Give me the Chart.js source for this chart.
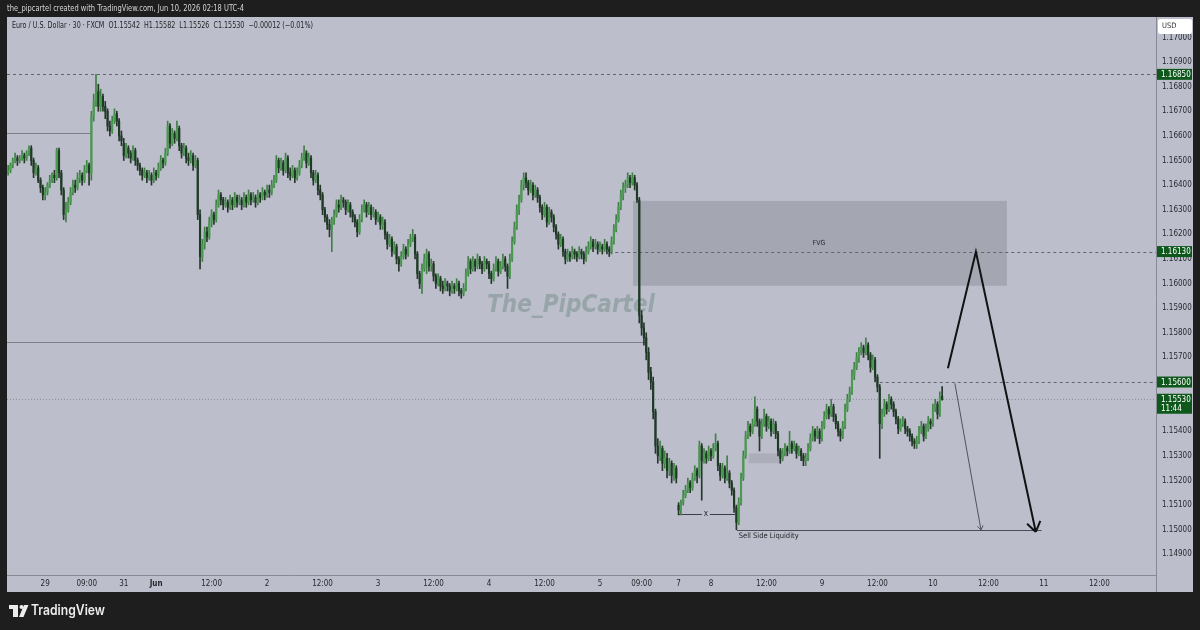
<!DOCTYPE html>
<html>
<head>
<meta charset="utf-8">
<script src="https://cdn.jsdelivr.net/npm/chart.js@4.4.1/dist/chart.umd.min.js"></script>
<style>
  html, body { margin: 0; padding: 0; background: #1e1e1e; }
  #wrap { width: 1200px; height: 630px; }
</style>
</head>
<body>
<div id="wrap"><canvas id="chart" width="1200" height="630"></canvas></div>
<script>
// EUR/USD 30 min candles, May 28 16:00 -> Jun 10 02:00 (weekends skipped)
const opens = [
  1.1645, 1.1646, 1.1648, 1.1650, 1.1651, 1.1650, 1.1651, 1.1652, 1.1651, 1.1653,
  1.1655, 1.1650, 1.1645, 1.1647, 1.1642, 1.1639, 1.1636, 1.1637, 1.1640, 1.1642,
  1.1644, 1.1643, 1.1654, 1.1645, 1.1638, 1.1628, 1.1630, 1.1633, 1.1637, 1.1640,
  1.1639, 1.1643, 1.1644, 1.1642, 1.1646, 1.1648, 1.1645, 1.1668, 1.1674, 1.1678,
  1.1672, 1.1676, 1.1672, 1.1670, 1.1664, 1.1662, 1.1666, 1.1669, 1.1666, 1.1660,
  1.1657, 1.1652, 1.1655, 1.1653, 1.1651, 1.1654, 1.1650, 1.1648, 1.1646, 1.1644,
  1.1645, 1.1643, 1.1644, 1.1642, 1.1645, 1.1644, 1.1647, 1.1650, 1.1649, 1.1653,
  1.1664, 1.1657, 1.1661, 1.1659, 1.1663, 1.1656, 1.1653, 1.1655, 1.1651, 1.1650,
  1.1652, 1.1648, 1.1650, 1.1628, 1.1611, 1.1616, 1.1621, 1.1619, 1.1625, 1.1628,
  1.1626, 1.1632, 1.1636, 1.1634, 1.1632, 1.1633, 1.1631, 1.1634, 1.1632, 1.1635,
  1.1633, 1.1634, 1.1632, 1.1635, 1.1633, 1.1636, 1.1634, 1.1635, 1.1633, 1.1636,
  1.1635, 1.1637, 1.1636, 1.1638, 1.1637, 1.1640, 1.1642, 1.1650, 1.1647, 1.1649,
  1.1646, 1.1651, 1.1645, 1.1644, 1.1646, 1.1643, 1.1645, 1.1648, 1.1651, 1.1653,
  1.1649, 1.1651, 1.1645, 1.1642, 1.1644, 1.1638, 1.1636, 1.1630, 1.1627, 1.1624,
  1.1622, 1.1626, 1.1628, 1.1632, 1.1631, 1.1634, 1.1633, 1.1630, 1.1632, 1.1629,
  1.1627, 1.1625, 1.1621, 1.1626, 1.1630, 1.1632, 1.1629, 1.1631, 1.1628, 1.1629,
  1.1626, 1.1627, 1.1624, 1.1625, 1.1620, 1.1616, 1.1618, 1.1613, 1.1615, 1.1610,
  1.1608, 1.1611, 1.1614, 1.1612, 1.1616, 1.1618, 1.1619, 1.1612, 1.1604, 1.1600,
  1.1606, 1.1610, 1.1612, 1.1607, 1.1608, 1.1603, 1.1600, 1.1602, 1.1599, 1.1598,
  1.1600, 1.1599, 1.1597, 1.1599, 1.1598, 1.1600, 1.1597, 1.1596, 1.1598, 1.1604,
  1.1609, 1.1606, 1.1609, 1.1607, 1.1610, 1.1608, 1.1606, 1.1609, 1.1608, 1.1604,
  1.1602, 1.1606, 1.1609, 1.1605, 1.1607, 1.1610, 1.1607, 1.1603, 1.1610, 1.1617,
  1.1623, 1.1630, 1.1634, 1.1640, 1.1643, 1.1641, 1.1638, 1.1640, 1.1636, 1.1638,
  1.1635, 1.1631, 1.1628, 1.1631, 1.1625, 1.1629, 1.1627, 1.1623, 1.1620, 1.1616,
  1.1618, 1.1613, 1.1610, 1.1612, 1.1611, 1.1613, 1.1612, 1.1611, 1.1613, 1.1612,
  1.1610, 1.1613, 1.1615, 1.1617, 1.1615, 1.1616, 1.1614, 1.1615, 1.1614, 1.1616,
  1.1614, 1.1613, 1.1617, 1.1622, 1.1626, 1.1631, 1.1636, 1.1639, 1.1640, 1.1643,
  1.1641, 1.1643, 1.1640, 1.1634, 1.1587, 1.1582, 1.1578, 1.1572, 1.1564, 1.1560,
  1.1548, 1.1534, 1.1530, 1.1533, 1.1527, 1.1529, 1.1524, 1.1527, 1.1522, 1.1525,
  1.1510, 1.1508, 1.1511, 1.1514, 1.1516, 1.1519, 1.1517, 1.1521, 1.1524, 1.1522,
  1.1534, 1.1528, 1.1531, 1.1529, 1.1532, 1.1530, 1.1533, 1.1535, 1.1526, 1.1522,
  1.1525, 1.1521, 1.1523, 1.1519, 1.1516, 1.1509, 1.1503, 1.1511, 1.1521, 1.1530,
  1.1538, 1.1542, 1.1540, 1.1543, 1.1549, 1.1544, 1.1538, 1.1543, 1.1546, 1.1542,
  1.1544, 1.1540, 1.1543, 1.1539, 1.1532, 1.1529, 1.1531, 1.1533, 1.1532, 1.1535,
  1.1533, 1.1534, 1.1531, 1.1532, 1.1530, 1.1528, 1.1529, 1.1533, 1.1537, 1.1540,
  1.1538, 1.1540, 1.1537, 1.1542, 1.1546, 1.1549, 1.1547, 1.1550, 1.1546, 1.1543,
  1.1540, 1.1538, 1.1542, 1.1549, 1.1553, 1.1556, 1.1563, 1.1566, 1.1570, 1.1572,
  1.1574, 1.1572, 1.1575, 1.1571, 1.1566, 1.1569, 1.1562, 1.1558, 1.1543, 1.1547,
  1.1551, 1.1549, 1.1553, 1.1551, 1.1548, 1.1545, 1.1541, 1.1543, 1.1544, 1.1541,
  1.1540, 1.1538, 1.1536, 1.1535, 1.1536, 1.1540, 1.1542, 1.1538, 1.1541, 1.1544,
  1.1543, 1.1549, 1.1551, 1.1547, 1.15542,
];

const highs = [
  1.1648, 1.1649, 1.1651, 1.1653, 1.1652, 1.1652, 1.1654, 1.1653, 1.1654, 1.1656,
  1.1656, 1.1651, 1.1649, 1.1648, 1.1643, 1.1640, 1.1639, 1.1641, 1.1644, 1.1645,
  1.1646, 1.1655, 1.1655, 1.1646, 1.1639, 1.1633, 1.1635, 1.1639, 1.1642, 1.1642,
  1.1645, 1.1646, 1.1645, 1.1648, 1.1650, 1.1649, 1.1670, 1.1677, 1.1685, 1.1681,
  1.1679, 1.1677, 1.1674, 1.1671, 1.1666, 1.1668, 1.1671, 1.1670, 1.1667, 1.1662,
  1.1659, 1.1657, 1.1656, 1.1654, 1.1656, 1.1655, 1.1651, 1.1649, 1.1647, 1.1647,
  1.1646, 1.1646, 1.1645, 1.1647, 1.1646, 1.1649, 1.1652, 1.1651, 1.1655, 1.1666,
  1.1665, 1.1663, 1.1662, 1.1666, 1.1664, 1.1657, 1.1657, 1.1656, 1.1653, 1.1654,
  1.1653, 1.1652, 1.1651, 1.1630, 1.1618, 1.1623, 1.1623, 1.1627, 1.1630, 1.1629,
  1.1634, 1.1638, 1.1637, 1.1635, 1.1635, 1.1634, 1.1636, 1.1635, 1.1637, 1.1636,
  1.1636, 1.1635, 1.1637, 1.1636, 1.1638, 1.1637, 1.1637, 1.1636, 1.1638, 1.1637,
  1.1639, 1.1638, 1.1640, 1.1640, 1.1642, 1.1644, 1.1652, 1.1651, 1.1651, 1.1650,
  1.1653, 1.1652, 1.1647, 1.1648, 1.1647, 1.1647, 1.1650, 1.1653, 1.1656, 1.1654,
  1.1653, 1.1652, 1.1646, 1.1646, 1.1645, 1.1640, 1.1637, 1.1631, 1.1628, 1.1626,
  1.1627, 1.1630, 1.1634, 1.1634, 1.1636, 1.1635, 1.1634, 1.1634, 1.1633, 1.1630,
  1.1628, 1.1626, 1.1628, 1.1632, 1.1634, 1.1633, 1.1633, 1.1632, 1.1631, 1.1630,
  1.1629, 1.1628, 1.1627, 1.1626, 1.1621, 1.1620, 1.1619, 1.1617, 1.1616, 1.1611,
  1.1613, 1.1616, 1.1615, 1.1618, 1.1620, 1.1622, 1.1620, 1.1613, 1.1605, 1.1608,
  1.1612, 1.1614, 1.1613, 1.1610, 1.1609, 1.1604, 1.1604, 1.1603, 1.1601, 1.1602,
  1.1601, 1.1600, 1.1601, 1.1600, 1.1602, 1.1601, 1.1598, 1.1600, 1.1606, 1.1611,
  1.1610, 1.1611, 1.1610, 1.1612, 1.1611, 1.1609, 1.1611, 1.1610, 1.1609, 1.1605,
  1.1608, 1.1611, 1.1610, 1.1609, 1.1612, 1.1611, 1.1608, 1.1612, 1.1619, 1.1625,
  1.1632, 1.1636, 1.1642, 1.1645, 1.1645, 1.1642, 1.1642, 1.1641, 1.1640, 1.1639,
  1.1636, 1.1632, 1.1633, 1.1632, 1.1631, 1.1630, 1.1628, 1.1624, 1.1621, 1.1620,
  1.1619, 1.1614, 1.1614, 1.1613, 1.1615, 1.1614, 1.1613, 1.1615, 1.1614, 1.1613,
  1.1615, 1.1617, 1.1619, 1.1618, 1.1618, 1.1617, 1.1617, 1.1616, 1.1618, 1.1617,
  1.1615, 1.1619, 1.1624, 1.1628, 1.1633, 1.1638, 1.1641, 1.1642, 1.1645, 1.1644,
  1.1645, 1.1644, 1.1641, 1.1635, 1.1589, 1.1584, 1.1580, 1.1574, 1.1566, 1.1562,
  1.1549, 1.1537, 1.1536, 1.1534, 1.1532, 1.1531, 1.1529, 1.1528, 1.1527, 1.1526,
  1.1511, 1.1512, 1.1516, 1.1518, 1.1521, 1.1520, 1.1523, 1.1526, 1.1525, 1.1536,
  1.1535, 1.1533, 1.1532, 1.1534, 1.1533, 1.1535, 1.1539, 1.1536, 1.1527, 1.1527,
  1.1526, 1.1530, 1.1524, 1.1520, 1.1517, 1.1510, 1.1513, 1.1523, 1.1532, 1.1540,
  1.1544, 1.1543, 1.1545, 1.1554, 1.1550, 1.1545, 1.1545, 1.1549, 1.1547, 1.1546,
  1.1545, 1.1545, 1.1544, 1.1540, 1.1533, 1.1533, 1.1535, 1.1534, 1.1540, 1.1536,
  1.1536, 1.1535, 1.1534, 1.1533, 1.1531, 1.1531, 1.1535, 1.1539, 1.1542, 1.1541,
  1.1542, 1.1541, 1.1544, 1.1548, 1.1551, 1.1550, 1.1553, 1.1551, 1.1547, 1.1544,
  1.1541, 1.1544, 1.1551, 1.1555, 1.1558, 1.1565, 1.1568, 1.1572, 1.1574, 1.1576,
  1.1575, 1.1578, 1.1576, 1.1572, 1.1571, 1.1570, 1.1563, 1.1559, 1.1549, 1.1553,
  1.1552, 1.1555, 1.1554, 1.1552, 1.1549, 1.1546, 1.1545, 1.1546, 1.1545, 1.1542,
  1.1541, 1.1539, 1.1537, 1.1538, 1.1542, 1.1544, 1.1543, 1.1543, 1.1546, 1.1545,
  1.1551, 1.1553, 1.1552, 1.1556, 1.15582,
];

const lows = [
  1.1644, 1.1645, 1.1647, 1.1649, 1.1648, 1.1649, 1.1650, 1.1649, 1.1650, 1.1652,
  1.1648, 1.1643, 1.1644, 1.1641, 1.1637, 1.1634, 1.1634, 1.1636, 1.1639, 1.1641,
  1.1641, 1.1642, 1.1643, 1.1636, 1.1626, 1.1625, 1.1629, 1.1632, 1.1636, 1.1637,
  1.1638, 1.1641, 1.1640, 1.1641, 1.1645, 1.1640, 1.1642, 1.1666, 1.1672, 1.1670,
  1.1670, 1.1670, 1.1667, 1.1662, 1.1660, 1.1661, 1.1665, 1.1664, 1.1658, 1.1656,
  1.1650, 1.1651, 1.1651, 1.1649, 1.1650, 1.1648, 1.1646, 1.1644, 1.1642, 1.1643,
  1.1641, 1.1642, 1.1640, 1.1641, 1.1642, 1.1643, 1.1646, 1.1647, 1.1648, 1.1652,
  1.1655, 1.1656, 1.1657, 1.1658, 1.1654, 1.1651, 1.1652, 1.1649, 1.1648, 1.1649,
  1.1646, 1.1647, 1.1626, 1.1606, 1.1609, 1.1614, 1.1617, 1.1618, 1.1623, 1.1624,
  1.1625, 1.1631, 1.1632, 1.1630, 1.1631, 1.1629, 1.1630, 1.1630, 1.1631, 1.1631,
  1.1632, 1.1630, 1.1631, 1.1631, 1.1632, 1.1632, 1.1633, 1.1631, 1.1632, 1.1633,
  1.1634, 1.1634, 1.1635, 1.1635, 1.1636, 1.1639, 1.1641, 1.1645, 1.1646, 1.1644,
  1.1645, 1.1643, 1.1642, 1.1643, 1.1641, 1.1642, 1.1644, 1.1647, 1.1650, 1.1647,
  1.1648, 1.1643, 1.1640, 1.1641, 1.1636, 1.1634, 1.1628, 1.1625, 1.1622, 1.1619,
  1.1613, 1.1624, 1.1627, 1.1629, 1.1630, 1.1631, 1.1628, 1.1629, 1.1627, 1.1625,
  1.1623, 1.1619, 1.1620, 1.1625, 1.1629, 1.1627, 1.1628, 1.1626, 1.1627, 1.1624,
  1.1625, 1.1622, 1.1622, 1.1618, 1.1614, 1.1615, 1.1611, 1.1612, 1.1608, 1.1605,
  1.1607, 1.1610, 1.1610, 1.1611, 1.1615, 1.1617, 1.1610, 1.1602, 1.1598, 1.1596,
  1.1605, 1.1604, 1.1605, 1.1605, 1.1601, 1.1598, 1.1599, 1.1597, 1.1596, 1.1597,
  1.1597, 1.1595, 1.1596, 1.1596, 1.1597, 1.1595, 1.1594, 1.1595, 1.1597, 1.1603,
  1.1604, 1.1605, 1.1605, 1.1606, 1.1606, 1.1604, 1.1605, 1.1606, 1.1602, 1.1600,
  1.1601, 1.1605, 1.1603, 1.1604, 1.1606, 1.1605, 1.1598, 1.1602, 1.1609, 1.1616,
  1.1622, 1.1628, 1.1633, 1.1638, 1.1639, 1.1636, 1.1637, 1.1634, 1.1635, 1.1633,
  1.1629, 1.1626, 1.1627, 1.1623, 1.1624, 1.1625, 1.1621, 1.1618, 1.1614, 1.1615,
  1.1611, 1.1608, 1.1609, 1.1609, 1.1610, 1.1610, 1.1609, 1.1610, 1.1610, 1.1608,
  1.1609, 1.1612, 1.1614, 1.1613, 1.1614, 1.1612, 1.1613, 1.1612, 1.1613, 1.1612,
  1.1611, 1.1612, 1.1616, 1.1621, 1.1625, 1.1630, 1.1634, 1.1637, 1.1639, 1.1639,
  1.1640, 1.1638, 1.1633, 1.1584, 1.1579, 1.1575, 1.1569, 1.1561, 1.1557, 1.1545,
  1.1531, 1.1527, 1.1528, 1.1524, 1.1525, 1.1521, 1.1522, 1.1519, 1.1520, 1.1519,
  1.1506, 1.1506, 1.1510, 1.1513, 1.1515, 1.1515, 1.1516, 1.1520, 1.1519, 1.1521,
  1.1512, 1.1527, 1.1527, 1.1528, 1.1528, 1.1529, 1.1532, 1.1524, 1.1520, 1.1521,
  1.1519, 1.1520, 1.1517, 1.1514, 1.1507, 1.1500, 1.1502, 1.1510, 1.1520, 1.1529,
  1.1537, 1.1538, 1.1539, 1.1542, 1.1542, 1.1532, 1.1537, 1.1542, 1.1540, 1.1541,
  1.1538, 1.1539, 1.1537, 1.1530, 1.1527, 1.1528, 1.1530, 1.1530, 1.1531, 1.1531,
  1.1532, 1.1529, 1.1530, 1.1528, 1.1526, 1.1526, 1.1528, 1.1532, 1.1536, 1.1536,
  1.1537, 1.1535, 1.1536, 1.1541, 1.1545, 1.1545, 1.1546, 1.1544, 1.1541, 1.1538,
  1.1536, 1.1537, 1.1541, 1.1548, 1.1552, 1.1555, 1.1561, 1.1565, 1.1568, 1.1571,
  1.1570, 1.1571, 1.1569, 1.1564, 1.1565, 1.1560, 1.1556, 1.1529, 1.1541, 1.1546,
  1.1547, 1.1548, 1.1549, 1.1546, 1.1543, 1.1539, 1.1540, 1.1542, 1.1539, 1.1538,
  1.1536, 1.1534, 1.1533, 1.1533, 1.1535, 1.1539, 1.1536, 1.1537, 1.1540, 1.1541,
  1.1542, 1.1548, 1.1545, 1.1546, 1.15526,
];

const closes = [
  1.1646, 1.1648, 1.1650, 1.1651, 1.1650, 1.1651, 1.1652, 1.1651, 1.1653, 1.1655,
  1.1650, 1.1645, 1.1647, 1.1642, 1.1639, 1.1636, 1.1637, 1.1640, 1.1642, 1.1644,
  1.1643, 1.1654, 1.1645, 1.1638, 1.1628, 1.1630, 1.1633, 1.1637, 1.1640, 1.1639,
  1.1643, 1.1644, 1.1642, 1.1646, 1.1648, 1.1645, 1.1668, 1.1674, 1.1678, 1.1672,
  1.1676, 1.1672, 1.1670, 1.1664, 1.1662, 1.1666, 1.1669, 1.1666, 1.1660, 1.1658,
  1.1652, 1.1655, 1.1653, 1.1651, 1.1654, 1.1650, 1.1648, 1.1646, 1.1644, 1.1645,
  1.1643, 1.1644, 1.1642, 1.1645, 1.1644, 1.1647, 1.1650, 1.1649, 1.1653, 1.1664,
  1.1657, 1.1661, 1.1659, 1.1663, 1.1656, 1.1653, 1.1655, 1.1651, 1.1650, 1.1652,
  1.1648, 1.1650, 1.1628, 1.1611, 1.1616, 1.1621, 1.1619, 1.1625, 1.1628, 1.1626,
  1.1632, 1.1636, 1.1634, 1.1632, 1.1633, 1.1631, 1.1634, 1.1632, 1.1635, 1.1633,
  1.1634, 1.1632, 1.1635, 1.1633, 1.1636, 1.1634, 1.1635, 1.1633, 1.1636, 1.1635,
  1.1637, 1.1636, 1.1638, 1.1637, 1.1640, 1.1642, 1.1650, 1.1647, 1.1649, 1.1646,
  1.1651, 1.1645, 1.1644, 1.1646, 1.1643, 1.1645, 1.1648, 1.1651, 1.1653, 1.1649,
  1.1651, 1.1645, 1.1642, 1.1644, 1.1638, 1.1636, 1.1630, 1.1627, 1.1624, 1.1622,
  1.1626, 1.1628, 1.1632, 1.1631, 1.1634, 1.1633, 1.1630, 1.1632, 1.1629, 1.1627,
  1.1625, 1.1621, 1.1626, 1.1630, 1.1632, 1.1629, 1.1631, 1.1628, 1.1629, 1.1626,
  1.1627, 1.1624, 1.1625, 1.1620, 1.1616, 1.1618, 1.1613, 1.1615, 1.1610, 1.1608,
  1.1611, 1.1614, 1.1612, 1.1616, 1.1618, 1.1619, 1.1612, 1.1604, 1.1600, 1.1606,
  1.1610, 1.1612, 1.1607, 1.1608, 1.1603, 1.1600, 1.1602, 1.1599, 1.1598, 1.1600,
  1.1599, 1.1597, 1.1599, 1.1598, 1.1600, 1.1597, 1.1596, 1.1598, 1.1604, 1.1609,
  1.1606, 1.1609, 1.1607, 1.1610, 1.1608, 1.1606, 1.1609, 1.1608, 1.1604, 1.1602,
  1.1606, 1.1609, 1.1605, 1.1607, 1.1610, 1.1607, 1.1603, 1.1610, 1.1617, 1.1623,
  1.1630, 1.1634, 1.1640, 1.1643, 1.1641, 1.1638, 1.1640, 1.1636, 1.1638, 1.1635,
  1.1631, 1.1628, 1.1631, 1.1625, 1.1629, 1.1627, 1.1623, 1.1620, 1.1616, 1.1618,
  1.1613, 1.1610, 1.1612, 1.1611, 1.1613, 1.1612, 1.1611, 1.1613, 1.1612, 1.1610,
  1.1613, 1.1615, 1.1617, 1.1615, 1.1616, 1.1614, 1.1615, 1.1614, 1.1616, 1.1614,
  1.1613, 1.1617, 1.1622, 1.1626, 1.1631, 1.1636, 1.1639, 1.1640, 1.1643, 1.1641,
  1.1643, 1.1640, 1.1634, 1.1587, 1.1582, 1.1578, 1.1572, 1.1564, 1.1560, 1.1548,
  1.1534, 1.1530, 1.1533, 1.1527, 1.1529, 1.1524, 1.1527, 1.1522, 1.1525, 1.1521,
  1.1508, 1.1511, 1.1514, 1.1516, 1.1519, 1.1517, 1.1521, 1.1524, 1.1522, 1.1534,
  1.1528, 1.1531, 1.1529, 1.1532, 1.1530, 1.1533, 1.1535, 1.1526, 1.1522, 1.1525,
  1.1521, 1.1523, 1.1519, 1.1516, 1.1509, 1.1503, 1.1511, 1.1521, 1.1530, 1.1538,
  1.1542, 1.1540, 1.1543, 1.1549, 1.1544, 1.1538, 1.1543, 1.1546, 1.1542, 1.1544,
  1.1540, 1.1543, 1.1539, 1.1532, 1.1529, 1.1531, 1.1533, 1.1532, 1.1535, 1.1533,
  1.1534, 1.1531, 1.1532, 1.1530, 1.1528, 1.1529, 1.1533, 1.1537, 1.1540, 1.1538,
  1.1540, 1.1537, 1.1542, 1.1546, 1.1549, 1.1547, 1.1550, 1.1546, 1.1543, 1.1540,
  1.1538, 1.1542, 1.1549, 1.1553, 1.1556, 1.1563, 1.1566, 1.1570, 1.1572, 1.1574,
  1.1572, 1.1575, 1.1571, 1.1566, 1.1569, 1.1562, 1.1558, 1.1543, 1.1547, 1.1551,
  1.1549, 1.1553, 1.1551, 1.1548, 1.1545, 1.1541, 1.1543, 1.1544, 1.1541, 1.1540,
  1.1538, 1.1536, 1.1535, 1.1536, 1.1540, 1.1542, 1.1538, 1.1541, 1.1544, 1.1543,
  1.1549, 1.1551, 1.1547, 1.1554, 1.15530,
];

// time axis: candle index of each label and its text
const timeTickIndex = [16, 34, 50, 64, 88, 112, 136, 160, 184, 208, 232, 256, 274, 290, 304, 328, 352, 376, 400, 424, 448, 472];
const timeTickText = ["29", "09:00", "31", "Jun", "12:00", "2", "12:00", "3", "12:00", "4", "12:00", "5", "09:00", "7", "8", "12:00", "9", "12:00", "10", "12:00", "11", "12:00"];
const priceTicks = [1.149, 1.150, 1.151, 1.152, 1.153, 1.154, 1.155, 1.156, 1.157, 1.158, 1.159, 1.160, 1.161, 1.162, 1.163, 1.164, 1.165, 1.166, 1.167, 1.168, 1.169, 1.170];

// drawings (candle index / price)
const levelPrices = [1.16850, 1.16130, 1.15600];
const levelStarts = [-0.5, 260, 377];
const lastPrice = 1.15530;
const countdown = "11:44";
const rangeLinePrices = [1.16612, 1.15762];
const rangeLineEnds = [35.8, 275.5];
const fvgZone = { from: 270.3, to: 432.0, top: 1.16336, bottom: 1.15991 };
const smallZone = { from: 320.3, to: 334.0, top: 1.15310, bottom: 1.15270 };
const equalLows = { from: 289.7, to: 314.4, price: 1.15063, mark: 301.8 };
const sellSide = { from: 315.2, to: 447.0, price: 1.15000 };
const mainPathIndex = [406.5, 418.6, 444.5];
const mainPathPrice = [1.15656, 1.16129, 1.14991];
const altPathIndex = [409.5, 420.8];
const altPathPrice = [1.15595, 1.14999];

const FONT = "'Liberation Sans Narrow', 'DejaVu Sans Condensed', 'Liberation Sans', sans-serif";
const UP = "#4c9a52";
const DOWN = "#1d3a24";
const UP_WICK = "#3f8045";
const DOWN_WICK = "#27352b";
const PANEL = "#bcbfcb";
const FRAME = "#1e1e1e";
const AXIS_LINE = "#878a95";
const LABEL_GREEN = "#0f581c";

const bodyColors = closes.map((c, i) => (c >= opens[i] ? UP : DOWN));
const wickColors = closes.map((c, i) => (c >= opens[i] ? UP_WICK : DOWN_WICK));

function drawArrow(ctx, pts, width, color, head) {
  ctx.save();
  ctx.strokeStyle = color;
  ctx.lineWidth = width;
  ctx.lineJoin = "miter";
  ctx.beginPath();
  pts.forEach((p, i) => (i ? ctx.lineTo(p.x, p.y) : ctx.moveTo(p.x, p.y)));
  const a = pts[pts.length - 2];
  const b = pts[pts.length - 1];
  const ang = Math.atan2(b.y - a.y, b.x - a.x);
  [-1, 1].forEach((s) => {
    const t = ang + Math.PI + s * 0.6;
    ctx.moveTo(b.x, b.y);
    ctx.lineTo(b.x + head * Math.cos(t), b.y + head * Math.sin(t));
  });
  ctx.stroke();
  ctx.restore();
}

function priceBox(ctx, yPix, text, sub) {
  const h = sub ? 20 : 11;
  const top = yPix - 5.5;
  ctx.fillStyle = LABEL_GREEN;
  ctx.fillRect(1157, top, 35, h);
  ctx.fillStyle = "#ffffff";
  ctx.font = `8px ${FONT}`;
  ctx.textAlign = "left";
  ctx.textBaseline = "middle";
  ctx.fillText(text, 1161, yPix + 0.5);
  if (sub) ctx.fillText(sub, 1161, yPix + 9.5);
}

const drawings = {
  id: "drawings",
  beforeDraw(chart) {
    const { ctx, width, height } = chart;
    ctx.save();
    ctx.fillStyle = FRAME;
    ctx.fillRect(0, 0, width, height);
    ctx.fillStyle = PANEL;
    ctx.fillRect(7, 17, 1186, 575);
    ctx.restore();
  },
  beforeDatasetsDraw(chart) {
    const { ctx, chartArea: area, scales: { x, y } } = chart;
    ctx.save();
    ctx.beginPath();
    ctx.rect(area.left, area.top, area.right - area.left, area.bottom - area.top);
    ctx.clip();

    // zones
    ctx.fillStyle = "#a4a6b1";
    ctx.fillRect(x.getPixelForValue(fvgZone.from), y.getPixelForValue(fvgZone.top),
      x.getPixelForValue(fvgZone.to) - x.getPixelForValue(fvgZone.from),
      y.getPixelForValue(fvgZone.bottom) - y.getPixelForValue(fvgZone.top));
    ctx.fillStyle = "#acaeb9";
    ctx.fillRect(x.getPixelForValue(smallZone.from), y.getPixelForValue(smallZone.top),
      x.getPixelForValue(smallZone.to) - x.getPixelForValue(smallZone.from),
      y.getPixelForValue(smallZone.bottom) - y.getPixelForValue(smallZone.top));

    // watermark
    ctx.fillStyle = "#97a5a8";
    ctx.font = "italic bold 25px 'DejaVu Sans', sans-serif";
    ctx.textAlign = "center";
    ctx.textBaseline = "alphabetic";
    ctx.fillText("The_PipCartel", 571, 312, 168);

    // range lines
    ctx.strokeStyle = "#7d808b";
    ctx.lineWidth = 1;
    rangeLinePrices.forEach((p, i) => {
      const py = Math.round(y.getPixelForValue(p)) + 0.5;
      ctx.beginPath();
      ctx.moveTo(area.left, py);
      ctx.lineTo(x.getPixelForValue(rangeLineEnds[i]), py);
      ctx.stroke();
    });

    // last price dotted line
    ctx.strokeStyle = "#8e919c";
    ctx.setLineDash([1, 2]);
    let py = Math.round(y.getPixelForValue(lastPrice)) + 0.5;
    ctx.beginPath();
    ctx.moveTo(area.left, py);
    ctx.lineTo(area.right, py);
    ctx.stroke();

    // dashed levels
    ctx.strokeStyle = "#63666f";
    ctx.setLineDash([3, 3]);
    levelPrices.forEach((p, i) => {
      const ly = Math.round(y.getPixelForValue(p)) + 0.5;
      ctx.beginPath();
      ctx.moveTo(Math.max(area.left, x.getPixelForValue(levelStarts[i])), ly);
      ctx.lineTo(area.right, ly);
      ctx.stroke();
    });
    ctx.setLineDash([]);

    // equal lows with x mark
    ctx.strokeStyle = "#3c3f45";
    py = Math.round(y.getPixelForValue(equalLows.price)) + 0.5;
    const mx = x.getPixelForValue(equalLows.mark);
    ctx.beginPath();
    ctx.moveTo(x.getPixelForValue(equalLows.from), py);
    ctx.lineTo(mx - 4, py);
    ctx.moveTo(mx + 4, py);
    ctx.lineTo(x.getPixelForValue(equalLows.to), py);
    ctx.stroke();
    ctx.fillStyle = "#2b2d31";
    ctx.font = `8px ${FONT}`;
    ctx.textAlign = "center";
    ctx.textBaseline = "middle";
    ctx.fillText("x", mx, py - 0.5);

    // sell side liquidity line
    ctx.strokeStyle = "#4a4d55";
    py = Math.round(y.getPixelForValue(sellSide.price)) + 0.5;
    ctx.beginPath();
    ctx.moveTo(x.getPixelForValue(sellSide.from), py);
    ctx.lineTo(x.getPixelForValue(sellSide.to), py);
    ctx.stroke();
    ctx.restore();
  },
  afterDatasetsDraw(chart) {
    const { ctx, scales: { x, y } } = chart;
    ctx.save();
    ctx.fillStyle = "#2a2c31";
    ctx.font = `7px ${FONT}`;
    ctx.textAlign = "center";
    ctx.textBaseline = "middle";
    ctx.fillText("FVG", x.getPixelForValue(350.7), y.getPixelForValue(1.16165));

    ctx.fillStyle = "#1e1f23";
    ctx.font = `7.5px ${FONT}`;
    ctx.textAlign = "left";
    ctx.fillText("Sell Side Liquidity", x.getPixelForValue(316.0), y.getPixelForValue(1.14974));

    drawArrow(ctx, altPathIndex.map((v, i) => ({ x: x.getPixelForValue(v), y: y.getPixelForValue(altPathPrice[i]) })), 1, "#50535b", 5);
    drawArrow(ctx, mainPathIndex.map((v, i) => ({ x: x.getPixelForValue(v), y: y.getPixelForValue(mainPathPrice[i]) })), 2, "#111214", 12);
    ctx.restore();
  },
  afterDraw(chart) {
    const { ctx, scales: { y } } = chart;
    ctx.save();
    // axis separator through the time row
    ctx.strokeStyle = AXIS_LINE;
    ctx.lineWidth = 1;
    ctx.beginPath();
    ctx.moveTo(1156.5, 575);
    ctx.lineTo(1156.5, 592);
    ctx.stroke();

    levelPrices.forEach((p) => priceBox(ctx, y.getPixelForValue(p), p.toFixed(5)));
    priceBox(ctx, y.getPixelForValue(lastPrice), lastPrice.toFixed(5), countdown);

    // currency button
    ctx.fillStyle = "#ffffff";
    ctx.beginPath();
    ctx.roundRect(1158, 19, 34, 15, 2);
    ctx.fill();
    ctx.fillStyle = "#2f3137";
    ctx.font = `7.5px ${FONT}`;
    ctx.textAlign = "left";
    ctx.textBaseline = "middle";
    ctx.fillText("USD", 1162, 26.5);

    // header texts
    ctx.fillStyle = "#d6d6d6";
    ctx.font = `9px ${FONT}`;
    ctx.fillText("the_pipcartel created with TradingView.com, Jun 10, 2026 02:18 UTC-4", 7, 9, 237);
    ctx.fillStyle = "#1f2024";
    ctx.font = `8px ${FONT}`;
    ctx.fillText("Euro / U.S. Dollar \u00b7 30 \u00b7 FXCM  O1.15542  H1.15582  L1.15526  C1.15530  \u22120.00012 (\u22120.01%)", 12, 26, 301);

    // TradingView logo
    ctx.fillStyle = "#ececec";
    ctx.fillRect(9, 605, 9, 4);
    ctx.fillRect(13, 605, 5, 12);
    ctx.beginPath();
    ctx.arc(21.5, 607, 2, 0, Math.PI * 2);
    ctx.fill();
    ctx.beginPath();
    ctx.moveTo(24, 605);
    ctx.lineTo(28.5, 605);
    ctx.lineTo(23.5, 617);
    ctx.lineTo(19, 617);
    ctx.closePath();
    ctx.fill();
    ctx.font = "600 14px 'Inter', 'Liberation Sans', sans-serif";
    ctx.textBaseline = "middle";
    ctx.fillText("TradingView", 31, 611, 74);
    ctx.restore();
  },
};

new Chart(document.getElementById("chart"), {
  type: "bar",
  data: {
    datasets: [
      {
        label: "wicks",
        data: closes.map((c, i) => ({ x: i, y: [lows[i], highs[i]] })),
        backgroundColor: wickColors,
        barThickness: 1,
        grouped: false,
        order: 2,
      },
      {
        label: "bodies",
        data: closes.map((c, i) => ({ x: i, y: [opens[i], c] })),
        backgroundColor: bodyColors,
        barThickness: 1.5,
        minBarLength: 1,
        grouped: false,
        order: 1,
      },
    ],
  },
  options: {
    responsive: false,
    animation: false,
    events: [],
    layout: { padding: { left: 7, top: 17, right: 7, bottom: 38 } },
    plugins: { legend: { display: false }, tooltip: { enabled: false } },
    scales: {
      x: {
        type: "linear",
        offset: false,
        min: -0.5,
        max: 496.5,
        grid: { display: false, drawTicks: false, offset: false },
        border: { display: true, color: AXIS_LINE },
        afterBuildTicks(scale) {
          scale.ticks = timeTickIndex.map((v) => ({ value: v }));
        },
        afterFit(scale) {
          scale.height = 17;
        },
        ticks: {
          autoSkip: false,
          maxRotation: 0,
          padding: 4,
          color: "#26282d",
          font: (c) => ({ family: FONT, size: 8, weight: c.tick && c.tick.label === "Jun" ? "bold" : "normal" }),
          callback: (value, index) => timeTickText[index],
        },
      },
      y: {
        position: "right",
        min: 1.14816,
        max: 1.17083,
        grid: { display: false, drawTicks: false },
        border: { display: true, color: AXIS_LINE },
        afterBuildTicks(scale) {
          scale.ticks = priceTicks.map((v) => ({ value: v }));
        },
        afterFit(scale) {
          scale.width = 37;
        },
        ticks: {
          autoSkip: false,
          padding: 6,
          color: "#26282d",
          font: { family: FONT, size: 8 },
          callback: (value) => Number(value).toFixed(5),
        },
      },
    },
  },
  plugins: [drawings],
});
</script>
</body>
</html>
